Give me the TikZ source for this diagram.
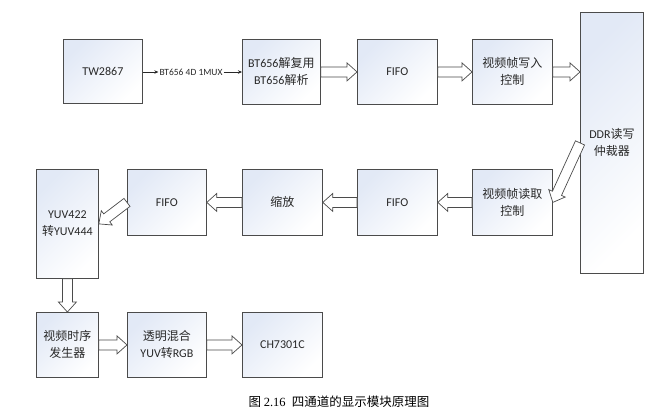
\documentclass[tikz,border=0pt]{standalone}
\usepackage{fontspec}
\setmainfont{Carlito}
\newfontfamily\cjk{Noto Sans CJK SC}
\newfontfamily\capserif{Liberation Serif}
\usetikzlibrary{calc,arrows.meta}

\definecolor{boxtop}{RGB}{226,233,246}
\definecolor{edgec}{RGB}{75,75,75}
\definecolor{txtc}{RGB}{40,40,40}

\tikzset{
  blk/.style={draw=edgec, line width=0.8pt, shade, top color=boxtop, bottom color=white,
    shading angle=45, text=txtc, font=\fontsize{12}{17}\selectfont, align=center,
    inner sep=0pt, anchor=north west},
  thinarrow/.style={draw=txtc, line width=0.6pt, -{Stealth[length=4pt,width=3.5pt]}},
  barrow/.style={draw=edgec, fill=white, line width=0.7pt, to path={
    let \p1=($(\tikztostart)!5pt!90:(\tikztotarget)$),
        \p2=($(\tikztostart)!5pt!-90:(\tikztotarget)$),
        \p3=($(\tikztotarget)!10pt!(\tikztostart)$),
        \p4=($(\p3)!5pt!90:(\tikztotarget)$),
        \p5=($(\p3)!5pt!-90:(\tikztotarget)$),
        \p6=($(\p3)!9pt!90:(\tikztotarget)$),
        \p7=($(\p3)!9pt!-90:(\tikztotarget)$)
    in (\p1) -- (\p4) -- (\p6) -- (\tikztotarget) -- (\p7) -- (\p5) -- (\p2) -- cycle}},
  lbl/.style={font=\fontsize{9.5}{10}\selectfont, text=txtc, inner sep=1pt},
  captext/.style={font=\fontsize{12.5}{14}\selectfont, text=black, inner sep=0pt}
}

\begin{document}
\begin{tikzpicture}[x=1pt,y=-1pt]
\useasboundingbox (0,0) rectangle (671,418);

% row 1
\node[blk, minimum width=79pt, minimum height=64pt] (tw) at (63,39) {TW2867};
\node[blk, minimum width=78pt, minimum height=65pt] (bt) at (242,39) {BT656{\cjk 解复用}\\BT656{\cjk 解析}};
\node[blk, minimum width=80pt, minimum height=65pt] (fifoa) at (357,39) {FIFO};
\node[blk, minimum width=80pt, minimum height=65pt] (wr) at (472,39) {\cjk 视频帧写入\\\cjk 控制};
\node[blk, minimum width=63pt, minimum height=261pt] (ddr) at (580,12) {DDR{\cjk 读写}\\\cjk 仲裁器};

% row 2
\node[blk, minimum width=80pt, minimum height=66pt] (rd) at (472,169) {\cjk 视频帧读取\\\cjk 控制};
\node[blk, minimum width=80pt, minimum height=66pt] (fifob) at (357,169) {FIFO};
\node[blk, minimum width=80pt, minimum height=66pt] (sc) at (242,169) {\cjk 缩放};
\node[blk, minimum width=79pt, minimum height=66pt] (fifoc) at (127,169) {FIFO};
\node[blk, minimum width=62pt, minimum height=109pt] (yuv) at (36,169) {YUV422\\{\cjk 转}YUV444};

% row 3
\node[blk, minimum width=62pt, minimum height=65pt] (tsg) at (36,312) {\cjk 视频时序\\\cjk 发生器};
\node[blk, minimum width=79pt, minimum height=65pt] (blend) at (127,312) {\cjk 透明混合\\YUV{\cjk 转}RGB};
\node[blk, minimum width=80pt, minimum height=65pt] (ch) at (242,312) {CH7301C};

% thin labelled connector
\node[lbl] (mux) at (191,72) {BT656 4D 1MUX};
\draw[thinarrow] (tw.east |- mux.west) -- (mux.west);
\draw[thinarrow] (mux.east) -- (bt.west |- mux.east);

% block arrows
\draw[barrow] (bt.east) to (fifoa.west);
\draw[barrow] (fifoa.east) to (wr.west);
\draw[barrow] (wr.east) to (wr.east -| ddr.west);
\draw[barrow] (ddr.west) to (rd.east);
\draw[barrow] (rd.west) to (fifob.east);
\draw[barrow] (fifob.west) to (sc.east);
\draw[barrow] (sc.west) to (fifoc.east);
\draw[barrow] (fifoc.west) to (yuv.east);
\draw[barrow] (yuv.south) to (tsg.north);
\draw[barrow] (tsg.east) to (blend.west);
\draw[barrow] (blend.east) to (ch.west);

% caption
\node[captext] (caption) at (339,402) {{\cjk 图} {\capserif 2.16}\enspace{\cjk 四通道的显示模块原理图}};
\end{tikzpicture}
\end{document}
